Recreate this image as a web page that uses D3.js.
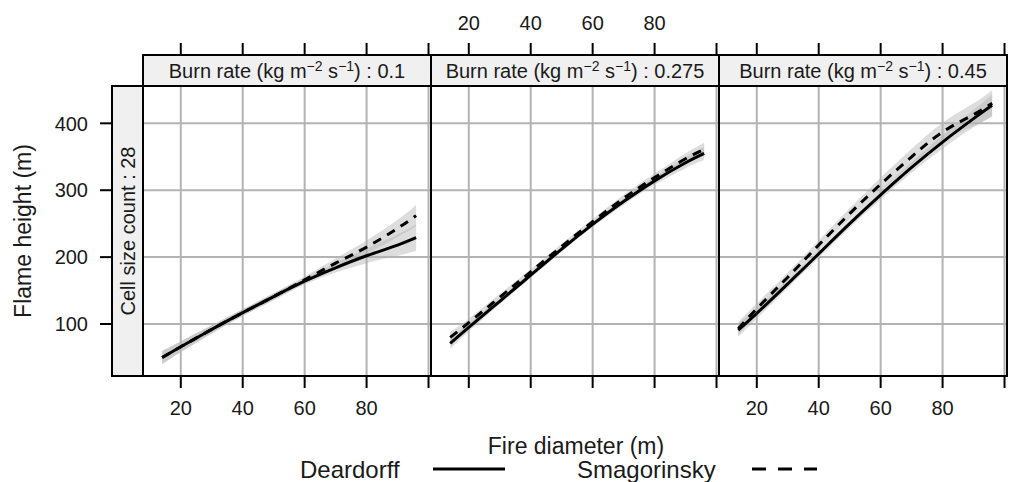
<!DOCTYPE html>
<html>
<head>
<meta charset="utf-8">
<script src="https://cdn.jsdelivr.net/npm/d3@7"></script>
<style>
  body { margin: 0; background: white; }
  text { font-family: "Liberation Sans", Arial, sans-serif; fill: #1a1a1a; }
</style>
</head>
<body>
<div id="vis1"></div>
<script>
// values
var diameters = [14, 20, 30, 40, 50, 60, 70, 80, 90, 96];
var burnRates = ["0.1", "0.275", "0.45"];

var deardorff = [
  [50, 66, 92, 117, 141, 164, 184, 202, 218, 229],
  [71, 95, 134, 173, 212, 249, 283, 314, 341, 355],
  [91, 116, 160, 205, 250, 293, 334, 372, 407, 427]
];
var smagorinsky = [
  [50, 66, 92, 117, 141, 166, 191, 215, 243, 262],
  [80, 102, 140, 178, 216, 253, 288, 319, 347, 361],
  [93, 123, 170, 218, 265, 309, 350, 387, 413, 430]
];
// half width of the grey confidence band
var deardorffSpread = [
  [10, 8, 6, 5, 5, 5, 7, 11, 16, 20],
  [8, 6, 5, 4, 4, 4, 5, 6, 8, 10],
  [10, 8, 6, 6, 6, 7, 8, 10, 13, 16]
];
var smagorinskySpread = [
  [10, 8, 6, 5, 5, 5, 7, 10, 13, 16],
  [8, 6, 5, 4, 4, 4, 5, 6, 8, 10],
  [10, 8, 7, 7, 8, 10, 12, 14, 17, 20]
];

var xTicks = [20, 40, 60, 80, 100];
var xTickLabels = ["20", "40", "60", "80", ""];
var yTicks = [100, 200, 300, 400];

var panelLeft = 143, panelTop = 86, pw = 288, ph = 290, stripH = 31, stripW = 31;

var svg = d3.select("#vis1")
  .append("svg")
    .attr("width", 1012)
    .attr("height", 482);

var x = d3.scaleLinear().domain([7.8, 100.8]).range([0, pw]);
var y = d3.scaleLinear().domain([22.3, 455.8]).range([ph, 0]);

// left strip (cell size)
svg.append("rect")
  .attr("x", panelLeft - stripW).attr("y", panelTop)
  .attr("width", stripW).attr("height", ph)
  .attr("fill", "#f0f0f0").attr("stroke", "black").attr("stroke-width", 2);
svg.append("text")
  .attr("transform", "translate(" + (panelLeft - stripW / 2 + 7) + "," + (panelTop + ph / 2) + ") rotate(-90)")
  .attr("text-anchor", "middle")
  .style("font-size", "20px")
  .text("Cell size count : 28");

// y axis on the left of the strip
var yAxis = svg.append("g").attr("transform", "translate(" + (panelLeft - stripW) + "," + panelTop + ")");
yTicks.forEach(function(t) {
  yAxis.append("line")
    .attr("x1", -12).attr("x2", 0)
    .attr("y1", y(t)).attr("y2", y(t))
    .attr("stroke", "black").attr("stroke-width", 2);
  yAxis.append("text")
    .attr("x", -24).attr("y", y(t))
    .attr("dy", "0.36em")
    .attr("text-anchor", "end")
    .style("font-size", "20px")
    .text(t);
});

svg.append("text")
  .attr("transform", "translate(31," + (panelTop + ph / 2) + ") rotate(-90)")
  .attr("text-anchor", "middle")
  .style("font-size", "23px")
  .text("Flame height (m)");

var line = d3.line()
  .x(function(d) { return x(d[0]); })
  .y(function(d) { return y(d[1]); })
  .curve(d3.curveNatural);

var area = d3.area()
  .x(function(d) { return x(d[0]); })
  .y0(function(d) { return y(d[1] - d[2]); })
  .y1(function(d) { return y(d[1] + d[2]); })
  .curve(d3.curveNatural);

burnRates.forEach(function(rate, p) {
  var g = svg.append("g").attr("transform", "translate(" + (panelLeft + p * pw) + "," + panelTop + ")");

  // grid
  xTicks.forEach(function(t) {
    g.append("line")
      .attr("x1", x(t)).attr("x2", x(t))
      .attr("y1", 0).attr("y2", ph)
      .attr("stroke", "#b3b3b3").attr("stroke-width", 2);
  });
  yTicks.forEach(function(t) {
    g.append("line")
      .attr("x1", 0).attr("x2", pw)
      .attr("y1", y(t)).attr("y2", y(t))
      .attr("stroke", "#b3b3b3").attr("stroke-width", 2);
  });

  var dd = diameters.map(function(d, i) { return [d, deardorff[p][i], deardorffSpread[p][i]]; });
  var sm = diameters.map(function(d, i) { return [d, smagorinsky[p][i], smagorinskySpread[p][i]]; });

  g.append("path").datum(dd)
    .attr("d", area)
    .attr("fill", "#b4b4b4").attr("opacity", 0.45);
  g.append("path").datum(sm)
    .attr("d", area)
    .attr("fill", "#b4b4b4").attr("opacity", 0.45);

  g.append("path").datum(dd)
    .attr("d", line)
    .attr("fill", "none").attr("stroke", "black").attr("stroke-width", 3);
  g.append("path").datum(sm)
    .attr("d", line)
    .attr("fill", "none").attr("stroke", "black").attr("stroke-width", 3)
    .attr("stroke-dasharray", "9,7");

  g.append("rect")
    .attr("width", pw).attr("height", ph)
    .attr("fill", "none").attr("stroke", "black").attr("stroke-width", 2);

  // strip on top
  g.append("rect")
    .attr("y", -stripH).attr("width", pw).attr("height", stripH)
    .attr("fill", "#f0f0f0").attr("stroke", "black").attr("stroke-width", 2);
  var st = g.append("text")
    .attr("x", pw / 2).attr("y", -stripH / 2)
    .attr("dy", "0.36em")
    .attr("text-anchor", "middle")
    .style("font-size", "20px");
  st.append("tspan").text("Burn rate (kg m");
  st.append("tspan").attr("dy", -7).style("font-size", "14px").text("\u22122");
  st.append("tspan").attr("dy", 7).text(" s");
  st.append("tspan").attr("dy", -7).style("font-size", "14px").text("\u22121");
  st.append("tspan").attr("dy", 7).text(") : " + rate);

  // ticks: labels at the bottom for panels 1 and 3, at the top for panel 2
  xTicks.forEach(function(t, i) {
    g.append("line")
      .attr("x1", x(t)).attr("x2", x(t))
      .attr("y1", ph).attr("y2", ph + 12)
      .attr("stroke", "black").attr("stroke-width", 2);
    g.append("line")
      .attr("x1", x(t)).attr("x2", x(t))
      .attr("y1", -stripH).attr("y2", -stripH - 12)
      .attr("stroke", "black").attr("stroke-width", 2);
    if (p === 1) {
      g.append("text")
        .attr("x", x(t)).attr("y", -stripH - 32)
        .attr("dy", "0.36em")
        .attr("text-anchor", "middle")
        .style("font-size", "20px")
        .text(xTickLabels[i]);
    } else {
      g.append("text")
        .attr("x", x(t)).attr("y", ph + 32)
        .attr("dy", "0.36em")
        .attr("text-anchor", "middle")
        .style("font-size", "20px")
        .text(xTickLabels[i]);
    }
  });
});

svg.append("text")
  .attr("x", 576).attr("y", 454)
  .attr("text-anchor", "middle")
  .style("font-size", "23px")
  .text("Fire diameter (m)");

// legend
svg.append("text")
  .attr("x", 300).attr("y", 478)
  .style("font-size", "24px")
  .text("Deardorff");
svg.append("line")
  .attr("x1", 433).attr("x2", 505).attr("y1", 469).attr("y2", 469)
  .attr("stroke", "black").attr("stroke-width", 3);
svg.append("text")
  .attr("x", 577).attr("y", 478)
  .style("font-size", "24px")
  .text("Smagorinsky");
svg.append("line")
  .attr("x1", 752).attr("x2", 817).attr("y1", 469).attr("y2", 469)
  .attr("stroke", "black").attr("stroke-width", 3)
  .attr("stroke-dasharray", "14,12");
</script>
</body>
</html>
